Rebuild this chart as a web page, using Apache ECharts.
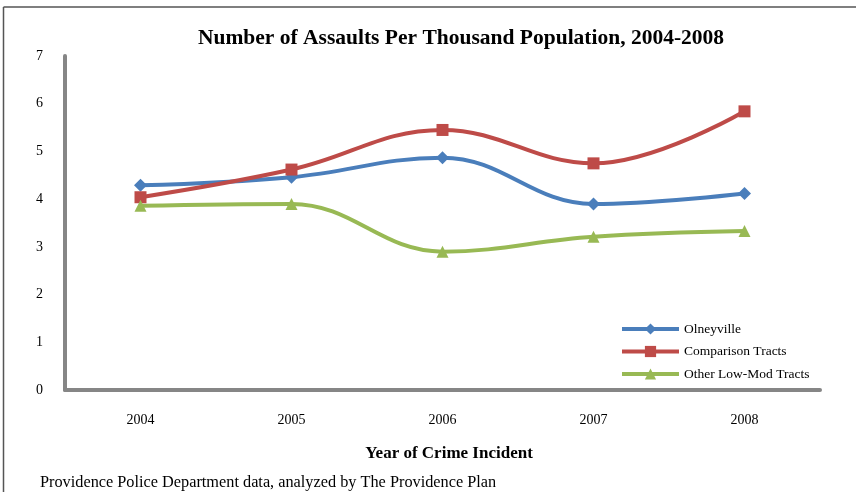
<!DOCTYPE html>
<html>
<head>
<meta charset="utf-8">
<script src="https://cdn.jsdelivr.net/npm/echarts@6/dist/echarts.min.js"></script>
<style>
html,body{margin:0;padding:0;background:#fff;}
#c{width:856px;height:492px;}
</style>
</head>
<body>
<div id="c"></div>
<script>
const categories = ['2004', '2005', '2006', '2007', '2008'];
const olneyville = [4.29, 4.46, 4.87, 3.90, 4.12];
const comparison = [4.04, 4.62, 5.45, 4.75, 5.84];
const otherLowMod = [3.86, 3.90, 2.90, 3.21, 3.33];
const yTicks = [0, 1, 2, 3, 4, 5, 6, 7];

const serif = '"Liberation Serif", "DejaVu Serif", serif';
const chart = echarts.init(document.getElementById('c'));
function lineSeries(name, data, color, symbol, size) {
  return {
    name: name, type: 'line', data: data, smooth: 0.4,
    symbol: symbol, symbolSize: size,
    lineStyle: { color: color, width: 4 },
    itemStyle: { color: color },
    emphasis: { disabled: true }
  };
}
chart.setOption({
  animation: false,
  title: {
    text: 'Number of Assaults Per Thousand Population, 2004-2008',
    left: 456, textAlign: 'center', top: 22,
    textStyle: { fontFamily: serif, fontSize: 21.5, fontWeight: 'bold', color: '#000' }
  },
  legend: {
    orient: 'vertical', left: 620, top: 322, padding: 0,
    itemWidth: 57, itemHeight: 14, itemGap: 8.5,
    lineStyle: { width: 4 },
    textStyle: { fontFamily: serif, fontSize: 13.5, color: '#000' },
    data: ['Olneyville', 'Comparison Tracts', 'Other Low-Mod Tracts']
  },
  grid: { left: 65, right: 36, top: 56, bottom: 102, containLabel: false },
  xAxis: {
    type: 'category', data: categories, boundaryGap: true,
    name: 'Year of Crime Incident', nameLocation: 'middle', nameGap: 55,
    nameTextStyle: { fontFamily: serif, fontSize: 17, fontWeight: 'bold', color: '#000', padding: [0, 0, 0, 13] },
    axisLine: { lineStyle: { color: '#868686', width: 4 } },
    axisTick: { alignWithLabel: true, length: 3, lineStyle: { color: '#868686', width: 2 } },
    axisLabel: { fontFamily: serif, fontSize: 14, color: '#000', margin: 23 }
  },
  yAxis: {
    type: 'value', min: yTicks[0], max: yTicks[yTicks.length - 1], interval: 1,
    splitLine: { show: false },
    axisLine: { show: true, lineStyle: { color: '#868686', width: 4 } },
    axisTick: { show: false },
    axisLabel: { fontFamily: serif, fontSize: 14, color: '#000', margin: 22 }
  },
  series: [
    lineSeries('Olneyville', olneyville, '#4A7EBB', 'diamond', 13),
    lineSeries('Comparison Tracts', comparison, '#BE4B48', 'rect', 12),
    lineSeries('Other Low-Mod Tracts', otherLowMod, '#98B954', 'triangle', 12)
  ],
  graphic: [
    { type: 'line', shape: { x1: 3.5, y1: 7, x2: 856, y2: 7 }, style: { stroke: '#555', lineWidth: 1.5 } },
    { type: 'line', shape: { x1: 3.5, y1: 7, x2: 3.5, y2: 492 }, style: { stroke: '#555', lineWidth: 1.5 } },
    { type: 'text', left: 40, top: 475,
      style: { text: 'Providence Police Department data, analyzed by The Providence Plan',
               font: '16.3px ' + serif, fill: '#000' } }
  ]
});
</script>
</body>
</html>
